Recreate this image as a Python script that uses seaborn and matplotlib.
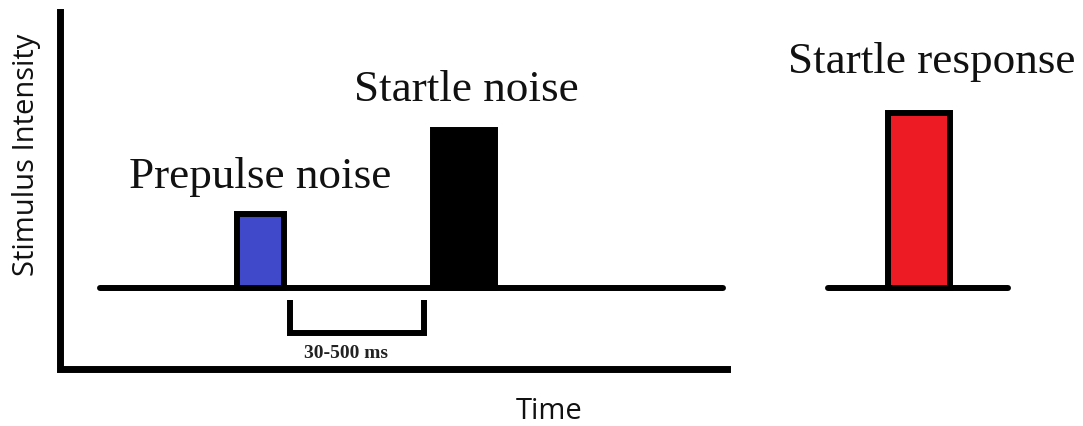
import numpy as np
import pandas as pd
import matplotlib
matplotlib.use("Agg")
import matplotlib.pyplot as plt
import seaborn as sns

# stimuli of the prepulse inhibition paradigm (time / intensity in drawing units)
stimuli = ["Prepulse noise", "Startle noise", "Startle response"]
onset = [237, 433, 888]
duration = [47, 62, 62]
intensity = [74, 158, 175]
fills = ["#3F49C9", "#000000", "#ED1C24"]

# baselines (time spans of the two traces)
trace_start = [100, 828]
trace_end = [723, 1008]

# interval between prepulse and startle
gap_label = "30-500 ms"
gap_start, gap_end = 290, 424

sns.set_style("white")

df = pd.DataFrame({"stim": stimuli, "onset": onset, "dur": duration, "amp": intensity})

fig = plt.figure(figsize=(10.83, 4.26), dpi=100)
ax = fig.add_axes([0, 0, 1, 1])
ax.set_xlim(0, 1083)
ax.set_ylim(-138, 288)
ax.axis("off")

lw = 4.3
for s, e in zip(trace_start, trace_end):
    ax.plot([s, e], [0, 0], color="black", lw=lw, solid_capstyle="round", zorder=2)

ax.bar(df["onset"], df["amp"], width=df["dur"], align="edge", bottom=0,
       color=fills, edgecolor="black", linewidth=lw, zorder=3)

# axes of the diagram
ax.plot([60, 60, 727], [276, -81, -81], color="black", lw=5, solid_joinstyle="miter",
        solid_capstyle="projecting", zorder=2)

# bracket
ax.plot([gap_start, gap_start, gap_end, gap_end], [-12, -45, -45, -12], color="black",
        lw=4.3, solid_joinstyle="miter", solid_capstyle="butt")
ax.text(346, 288 - 358, gap_label, ha="center", va="baseline",
        fontsize=14, fontweight="bold", family="Liberation Serif", color="#222222")

label_x = [260, 466, 932]
label_base = [188, 101, 73]
for name, lx, ly in zip(stimuli, label_x, label_base):
    ax.text(lx, 288 - ly, name, ha="center", va="baseline", fontsize=32.5,
            family="Liberation Serif", color="#111111")

ax.text(549, 288 - 419, "Time", ha="center", va="baseline", fontsize=21,
        family="Open Sans", color="#111111")
ax.text(27, 288 - 155, "Stimulus Intensity", ha="center", va="center", rotation=90,
        fontsize=21, family="Open Sans", color="#111111")

fig.savefig("out.png", dpi=100)
